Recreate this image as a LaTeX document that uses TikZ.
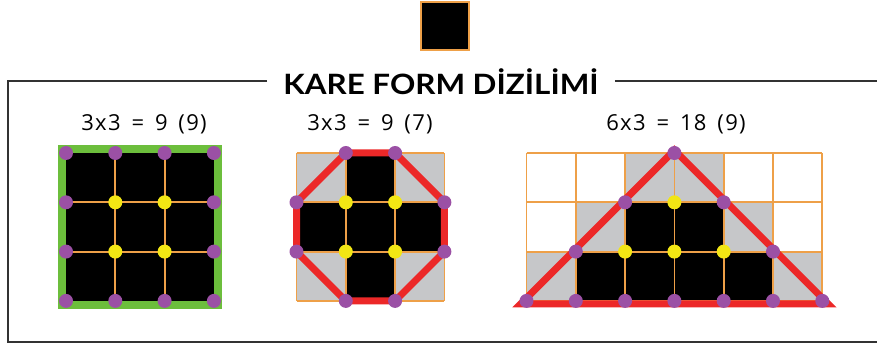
\documentclass[tikz,border=0pt]{standalone}
\usepackage{fontspec}
\setmainfont{Lato}
\newfontfamily\capfont[LetterSpace=6, WordSpace=1.55]{Open Sans}
\newfontfamily\titlefont[FakeStretch=1.12]{Lato}
\usetikzlibrary{positioning}

\definecolor{gridorange}{RGB}{238,160,72}
\definecolor{cellgray}{RGB}{198,199,201}
\definecolor{dotpurple}{RGB}{155,80,165}
\definecolor{dotyellow}{RGB}{242,230,20}
\definecolor{bordergreen}{RGB}{108,190,60}
\definecolor{linered}{RGB}{236,40,40}
\definecolor{framegray}{RGB}{50,50,50}

\begin{document}
\begin{tikzpicture}[x=1pt, y=-1pt,
    pdot/.style={circle, fill=dotpurple, minimum size=14pt, inner sep=0pt},
    ydot/.style={circle, fill=dotyellow, minimum size=14pt, inner sep=0pt},
    gridline/.style={draw=gridorange, line width=1.8pt},
    redline/.style={draw=linered, line width=7pt, line join=miter},
    frame/.style={draw=framegray, line width=1.8pt},
    caption/.style={font=\capfont\fontsize{22}{26}\selectfont, anchor=base},
    title/.style={font=\titlefont\bfseries\fontsize{28}{32}\selectfont, inner xsep=16pt, inner ysep=0pt}
]
\useasboundingbox (0,0) rectangle (877,347);

% Key square
\node[draw=gridorange, line width=1.6pt, fill=black, minimum size=48pt, inner sep=0pt] (key) at (445,26) {};

% Title and frame
\node[title] (title) at (441,81.5) {KARE FORM DİZİLİMİ};
\coordinate (tl) at (8,81);
\coordinate (tr) at (877,81);
\coordinate (bl) at (8,342);
\coordinate (br) at (877,342);
\draw[frame] (title.west |- tl) -- (tl) -- (bl) -- (br);
\draw[frame] (title.east |- tr) -- (tr);

% Captions
\node[caption] (cap1) at (144,131) {3x3 = 9 (9)};
\node[caption] (cap2) at (370,131) {3x3 = 9 (7)};
\node[caption] (cap3) at (676,131) {6x3 = 18 (9)};

% Grid 1: full square
\begin{scope}[shift={(66,153)}, x=49.3pt, y=-49.3pt]
  \fill[black] (0,0) rectangle (3,3);
  \foreach \i in {1,2} {
    \draw[gridline] (\i,0) -- (\i,3);
    \draw[gridline] (0,\i) -- (3,\i);
  }
  \draw[draw=bordergreen, line width=8pt] ([xshift=-4pt, yshift=4pt]0,0) rectangle ([xshift=4pt, yshift=-4pt]3,3);
  \foreach \x/\y in {0/0,1/0,2/0,3/0,0/1,3/1,0/2,3/2,0/3,1/3,2/3,3/3}
    \node[pdot] (a-\x-\y) at (\x,\y) {};
  \foreach \x/\y in {1/1,2/1,1/2,2/2}
    \node[ydot] (a-\x-\y) at (\x,\y) {};
\end{scope}

% Grid 2: cross in octagon
\begin{scope}[shift={(296.5,153)}, x=49.3pt, y=-49.3pt]
  \fill[cellgray] (0,0) rectangle (3,3);
  \foreach \x/\y in {1/0,0/1,1/1,2/1,1/2}
    \fill[black] (\x,\y) rectangle ++(1,1);
  \foreach \i in {0,...,3} {
    \draw[gridline] (\i,0) -- (\i,3);
    \draw[gridline] (0,\i) -- (3,\i);
  }
  \draw[redline] (1,0) -- (2,0) -- (3,1) -- (3,2) -- (2,3) -- (1,3) -- (0,2) -- (0,1) -- cycle;
  \foreach \x/\y in {1/0,2/0,0/1,3/1,0/2,3/2,1/3,2/3}
    \node[pdot] (b-\x-\y) at (\x,\y) {};
  \foreach \x/\y in {1/1,2/1,1/2,2/2}
    \node[ydot] (b-\x-\y) at (\x,\y) {};
\end{scope}

% Grid 3: triangle
\begin{scope}[shift={(526.5,153)}, x=49.3pt, y=-49.3pt]
  \foreach \x/\y in {2/0,3/0,1/1,4/1,0/2,5/2}
    \fill[cellgray] (\x,\y) rectangle ++(1,1);
  \foreach \x/\y in {2/1,3/1,1/2,2/2,3/2,4/2}
    \fill[black] (\x,\y) rectangle ++(1,1);
  \foreach \i in {0,...,6}
    \draw[gridline] (\i,0) -- (\i,3);
  \foreach \j in {0,...,3}
    \draw[gridline] (0,\j) -- (6,\j);
  \draw[redline] (3,-0.057) -- (6.117,3.06) -- (-0.117,3.06) -- cycle;
  \foreach \x/\y in {3/0,2/1,4/1,1/2,5/2,0/3,1/3,2/3,3/3,4/3,5/3,6/3}
    \node[pdot] (c-\x-\y) at (\x,\y) {};
  \foreach \x/\y in {3/1,2/2,3/2,4/2}
    \node[ydot] (c-\x-\y) at (\x,\y) {};
\end{scope}

\end{tikzpicture}
\end{document}
